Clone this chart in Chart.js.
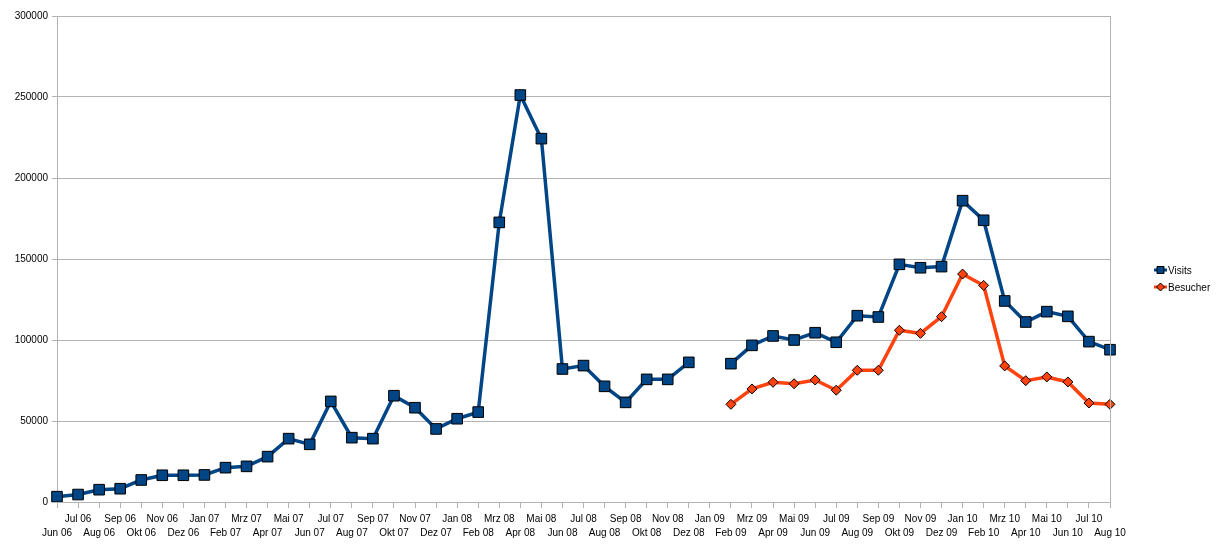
<!DOCTYPE html>
<html>
<head>
<meta charset="utf-8">
<script src="https://cdn.jsdelivr.net/npm/chart.js@4.4.1/dist/chart.umd.min.js"></script>
<style>
  html, body { margin: 0; padding: 0; background: #fff; }
  #wrap { width: 1226px; height: 549px; }
</style>
</head>
<body>
<div id="wrap"><canvas id="chart" width="1226" height="549"></canvas></div>
<script>
// months Jun 06 .. Aug 10
var labels = [
  'Jun 06','Jul 06','Aug 06','Sep 06','Okt 06','Nov 06','Dez 06',
  'Jan 07','Feb 07','Mrz 07','Apr 07','Mai 07','Jun 07','Jul 07','Aug 07','Sep 07','Okt 07','Nov 07','Dez 07',
  'Jan 08','Feb 08','Mrz 08','Apr 08','Mai 08','Jun 08','Jul 08','Aug 08','Sep 08','Okt 08','Nov 08','Dez 08',
  'Jan 09','Feb 09','Mrz 09','Apr 09','Mai 09','Jun 09','Jul 09','Aug 09','Sep 09','Okt 09','Nov 09','Dez 09',
  'Jan 10','Feb 10','Mrz 10','Apr 10','Mai 10','Jun 10','Jul 10','Aug 10'
];

var visits = [
  3300, 4600, 7600, 8200, 13600, 16500, 16500,
  16700, 21200, 22000, 28000, 39100, 35600, 62100, 39700, 39100, 65600, 58200, 45100,
  51400, 55500, 172600, 251200, 224300, 82100, 84200, 71400, 61500, 75700, 75700, 86200,
  null, 85400, 96700, 102500, 100000, 104500, 98600, 115000, 114200, 146700, 144600, 145300,
  186000, 173900, 124100, 111100, 117500, 114600, 99000, 94000
];

var besucher = [
  null, null, null, null, null, null, null,
  null, null, null, null, null, null, null, null, null, null, null, null,
  null, null, null, null, null, null, null, null, null, null, null, null,
  null, 60300, 69800, 73900, 73000, 75300, 69000, 81300, 81300, 106000, 104100, 114400,
  140700, 133700, 84000, 74900, 77200, 74100, 61100, 60300
];

var yTicks = [0, 50000, 100000, 150000, 200000, 250000, 300000];

var GRID = '#b3b3b3';
var FONT = { family: 'Liberation Sans, Arial, sans-serif', size: 10 };

// right border of the plot + line/marker legend on the right
var extras = {
  id: 'extras',
  afterDraw: function(chart){
    var ctx = chart.ctx, a = chart.chartArea;
    ctx.save();
    ctx.strokeStyle = GRID;
    ctx.lineWidth = 1;
    ctx.beginPath();
    ctx.moveTo(Math.round(a.right) + 0.5, a.top);
    ctx.lineTo(Math.round(a.right) + 0.5, a.bottom);
    ctx.stroke();

    var x0 = 1154, y0 = 270;
    chart.data.datasets.forEach(function(ds, i){
      var y = y0 + i * 17;
      ctx.strokeStyle = ds.borderColor;
      ctx.lineWidth = 3;
      ctx.beginPath();
      ctx.moveTo(x0, y);
      ctx.lineTo(x0 + 13, y);
      ctx.stroke();
      ctx.fillStyle = ds.pointBackgroundColor;
      ctx.strokeStyle = '#000';
      ctx.lineWidth = 1;
      ctx.beginPath();
      if (ds.pointStyle == 'rect') {
        ctx.rect(x0 + 3, y - 3.5, 7, 7);
      } else {
        ctx.moveTo(x0 + 6.5, y - 4);
        ctx.lineTo(x0 + 10.5, y);
        ctx.lineTo(x0 + 6.5, y + 4);
        ctx.lineTo(x0 + 2.5, y);
        ctx.closePath();
      }
      ctx.fill();
      ctx.stroke();
      ctx.fillStyle = '#000';
      ctx.font = FONT.size + 'px ' + FONT.family;
      ctx.textBaseline = 'middle';
      ctx.textAlign = 'left';
      ctx.fillText(ds.label, x0 + 14, y + 1);
    });
    ctx.restore();
  }
};

new Chart(document.getElementById('chart'), {
  type: 'line',
  data: {
    labels: labels,
    datasets: [
      {
        label: 'Visits',
        data: visits,
        borderColor: '#004586',
        borderWidth: 3.5,
        pointStyle: 'rect',
        pointRadius: 7.5,
        pointBackgroundColor: '#004586',
        pointBorderColor: '#000',
        pointBorderWidth: 1,
        tension: 0,
        spanGaps: false
      },
      {
        label: 'Besucher',
        data: besucher,
        borderColor: '#ff420e',
        borderWidth: 3.5,
        pointStyle: 'rectRot',
        pointRadius: 5,
        pointBackgroundColor: '#ff420e',
        pointBorderColor: '#000',
        pointBorderWidth: 1,
        tension: 0,
        spanGaps: false
      }
    ]
  },
  options: {
    responsive: false,
    animation: false,
    layout: { padding: { top: 16, right: 116, left: 0, bottom: 0 } },
    plugins: {
      legend: { display: false },
      tooltip: { enabled: false }
    },
    scales: {
      x: {
        offset: false,
        grid: { display: true, drawOnChartArea: false, drawTicks: true, tickLength: 6, color: GRID },
        border: { color: GRID },
        ticks: {
          autoSkip: false,
          maxRotation: 0,
          minRotation: 0,
          padding: 4,
          color: '#000',
          font: { family: FONT.family, size: FONT.size, lineHeight: 1.4 },
          callback: function(v, i){
            return i % 2 ? [labels[i], ''] : ['', labels[i]];
          }
        },
        afterFit: function(scale){ scale.height = 47; }
      },
      y: {
        min: 0,
        max: 300000,
        afterBuildTicks: function(scale){
          scale.ticks = yTicks.map(function(v){ return { value: v }; });
        },
        grid: { color: GRID, drawTicks: true, tickLength: 5 },
        border: { color: GRID },
        ticks: {
          padding: 4,
          color: '#000',
          font: FONT,
          callback: function(v){ return String(v); }
        },
        afterFit: function(scale){ scale.width = 57; }
      }
    }
  },
  plugins: [extras]
});
</script>
</body>
</html>
